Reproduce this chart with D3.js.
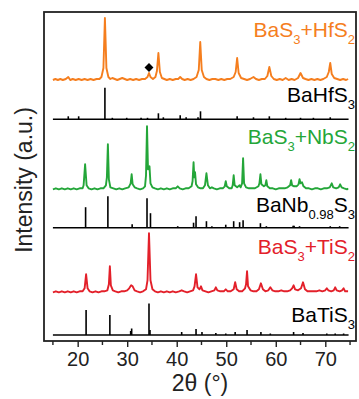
<!DOCTYPE html>
<html lang="en">
<head>
<meta charset="UTF-8"/>
<title>XRD patterns</title>
<script src="https://d3js.org/d3.v7.min.js"></script>
<style>
  body { margin: 0; background: #fff; }
  svg text { font-family: "Liberation Sans", Arial, sans-serif; }
</style>
</head>
<body>
<div id="chart"></div>
<script>
// measured pattern BaS3 + HfS2, [2theta, intensity above its own baseline]
var hfExp = [[15,0],[15.5,1],[16,0],[16.5,1],[17,0],[17.6,1],[18.1,3],[18.5,0],[19,1],[19.6,0],[20.2,1],[20.8,0],[21.4,1],[22,0],[22.6,1],[23.2,0],[23.8,1],[24.4,1],[24.8,3],[25.2,12],[25.5,62],[25.8,12],[26.2,3],[26.6,1],[27,2],[27.5,1],[28,0],[28.5,1],[29,2],[29.5,1],[30,0],[30.6,1],[31.2,0],[31.8,1],[32.4,0],[33,1],[33.6,1],[34.1,3],[34.4,7],[34.7,3],[35.2,1],[35.7,3],[36,9],[36.3,27],[36.6,8],[37,2],[37.5,1],[38,0],[38.6,1],[39.2,0],[39.8,1],[40.3,1],[40.7,3],[41.1,1],[41.6,0],[42.2,1],[42.8,0],[43.4,1],[44,3],[44.45,10],[44.75,38],[45.05,10],[45.5,3],[46,1],[46.6,0],[47.2,1],[47.8,1],[48.4,0],[49,1],[49.6,0],[50.2,1],[50.8,1],[51.5,3],[51.9,8],[52.2,22],[52.5,7],[53,2],[53.6,1],[54.2,0],[54.8,1],[55.5,3],[56,1],[56.6,0],[57.2,1],[57.8,1],[58.3,4],[58.7,13],[59.1,4],[59.6,1],[60.2,0],[60.8,1],[61.4,0],[62,2],[62.6,0],[63.2,1],[63.8,0],[64.5,2],[65,7],[65.5,2],[66,1],[66.6,0],[67.2,1],[67.8,0],[68.4,1],[69,0],[69.6,1],[70.3,3],[70.7,8],[71,17],[71.3,6],[71.8,2],[72.4,1],[73,0],[73.6,1],[74.2,0],[74.6,1]];

// reference sticks BaHfS3, [2theta, intensity]
var hfRef = [[18.1,3],[20.2,3],[25.5,31.5],[27.0,1.5],[29.9,1.5],[32.8,1.5],[34.1,1.5],[36.3,6],[37.3,2],[40.7,4],[41.9,2],[44.3,2],[44.8,8],[52.2,3],[55.5,2],[58.7,3],[62,1.5],[65,1.5],[67.6,1.5],[71,2]];

// measured pattern BaS3 + NbS2
var nbExp = [[15,0],[15.6,1],[16.2,0],[16.8,1],[17.4,0],[18,1],[18.6,0],[19.2,1],[19.8,0],[20.4,1],[21,1],[21.2,4],[21.5,25],[21.8,4],[22.2,1],[22.8,0],[23.4,1],[24,0],[24.6,1],[25.2,1],[25.7,4],[25.9,12],[26.1,45],[26.3,10],[26.6,2],[27.2,1],[27.8,0],[28.4,1],[29,0],[29.6,1],[30.3,2],[30.7,6],[30.9,15],[31.1,5],[31.5,2],[32,1],[32.6,0],[33.2,1],[33.6,3],[33.8,14],[34.0,63],[34.2,20],[34.5,23],[34.7,6],[35.1,2],[35.6,1],[36.2,0],[36.8,1],[37.4,0],[38,1],[38.6,0],[39.2,1],[39.8,1],[40.2,3],[40.6,1],[41.2,0],[41.8,1],[42.4,1],[43,3],[43.2,8],[43.4,27],[43.55,12],[43.7,17],[43.9,5],[44.3,2],[44.8,1],[45.3,1],[45.7,4],[46.0,16],[46.3,4],[46.7,1],[47.1,2],[47.5,1],[48.1,0],[48.7,1],[49.3,1],[49.7,3],[49.9,8],[50.1,3],[50.6,1],[51.1,1],[51.3,4],[51.5,14],[51.7,4],[52.2,2],[52.7,4],[52.9,2],[53.2,6],[53.4,31],[53.6,6],[54,2],[54.6,1],[55.2,1],[55.8,1],[56.5,3],[56.7,6],[56.9,15],[57.1,5],[57.6,3],[57.9,4],[58.1,9],[58.3,3],[58.8,1],[59.4,1],[60,0],[60.6,1],[61.2,1],[61.8,1],[62.4,2],[62.9,4],[63.1,9],[63.3,4],[63.7,3],[64.2,3],[64.6,5],[64.8,10],[65.0,6],[65.3,7],[65.6,3],[66.1,1],[66.7,1],[67.3,0],[67.9,1],[68.5,1],[69.1,0],[69.7,1],[70.3,1],[70.9,2],[71.3,6],[71.6,2],[72.2,1],[72.7,2],[73.0,5],[73.3,2],[73.8,1],[74.4,0],[74.6,1]];

// reference sticks BaNb0.98S3
var nbRef = [[21.6,20.5],[26.1,31.5],[31.0,3.5],[34.0,29.5],[34.7,14.5],[40.2,1.5],[43.4,5],[43.9,11.5],[46.0,6.5],[47.1,1.5],[49.9,3],[51.5,6.5],[52.7,5.5],[53.4,7.5],[56.9,4.5],[58.1,1.5],[63.5,2],[63.7,2],[64.8,1.5],[71,1.5],[72.9,1.5]];

// measured pattern BaS3 + TiS2
var tiExp = [[15,0],[15.6,1],[16.2,0],[16.8,1],[17.4,0],[18,1],[18.6,0],[19.2,1],[19.8,0],[20.4,1],[21,1],[21.4,4],[21.7,18],[22,4],[22.4,1],[23,0],[23.6,1],[24.2,0],[24.8,1],[25.4,1],[26,2],[26.3,8],[26.5,26],[26.7,7],[27.1,2],[27.6,1],[28.2,0],[28.8,1],[29.4,1],[30,2],[30.4,4],[30.8,7],[31.1,6],[31.5,2],[32,1],[32.6,0],[33.2,1],[33.8,3],[34.1,12],[34.4,59],[34.7,12],[35.1,3],[35.6,1],[36.2,0],[36.8,1],[37.4,0],[38,1],[38.6,0],[39.2,1],[39.8,0],[40.5,1],[41,2],[41.5,1],[42.1,0],[42.7,1],[43.3,2],[43.6,6],[43.9,18],[44.2,5],[44.6,3],[44.9,6],[45.2,2],[45.8,1],[46.4,0],[47,1],[47.6,2],[47.9,5],[48.2,2],[48.8,1],[49.5,1],[49.9,3],[50.3,1],[50.9,1],[51.5,3],[51.8,10],[52.1,3],[52.6,1],[53.2,1],[53.8,4],[54.0,8],[54.2,21],[54.4,6],[54.9,2],[55.5,1],[56.1,1],[56.6,3],[57.0,9],[57.4,3],[57.9,1],[58.5,2],[58.9,5],[59.3,2],[59.9,1],[60.5,1],[61.1,2],[61.7,1],[62.3,1],[62.9,2],[63.3,4],[63.6,7],[63.9,3],[64.5,2],[65.1,4],[65.5,10],[65.9,3],[66.4,1],[67,1],[67.6,1],[68.2,1],[68.8,2],[69.4,1],[70,2],[70.3,4],[70.6,2],[71.2,1],[71.7,2],[72.0,5],[72.3,2],[72.9,1],[73.4,2],[73.7,4],[74,1],[74.6,1]];

// reference sticks BaTiS3
var tiRef = [[21.7,25],[26.5,20],[30.7,4],[30.9,6.5],[34.4,31.5],[34.6,5],[41.0,3],[43.9,6],[45.1,3],[47.9,2],[49.9,1.5],[51.8,3],[54.2,5],[57.0,3],[58.9,1.5],[63.6,3],[65.5,2],[70.3,1.5],[72.0,1.5],[73.7,1.5]];

// vertical offsets of each pattern (a.u.)
var offsets = { hfExp: 261, hfRef: 221.7, nbExp: 151.7, nbRef: 113.3, tiExp: 48.7, tiRef: 6 };

// impurity marker (diamond) above HfS2 pattern
var marker = [34.4, 12.5];

var refRange = [15, 74.7];
var majorTicks = [20, 30, 40, 50, 60, 70];
var minorTicks = [15, 25, 35, 45, 55, 65, 75];

// labels, each part is [text, subscript?]
var hfExpLabel = [["BaS", 0], ["3", 1], ["+HfS", 0], ["2", 1]];
var hfRefLabel = [["BaHfS", 0], ["3", 1]];
var nbExpLabel = [["BaS", 0], ["3", 1], ["+NbS", 0], ["2", 1]];
var nbRefLabel = [["BaNb", 0], ["0.98", 1], ["S", 0], ["3", 1]];
var tiExpLabel = [["BaS", 0], ["3", 1], ["+TiS", 0], ["2", 1]];
var tiRefLabel = [["BaTiS", 0], ["3", 1]];

var width = 359;
var height = 399;
var margin = { top: 12, right: 3, bottom: 58, left: 44 };

var svg = d3.select("#chart")
  .append("svg")
  .attr("width", width)
  .attr("height", height);

var x = d3.scaleLinear()
  .domain([13.2, 76.2])
  .range([margin.left, width - margin.right]);

var y = d3.scaleLinear()
  .domain([0, 329])
  .range([height - margin.bottom, margin.top]);

var orange = "#f57e1e";
var green = "#24a639";
var red = "#e3202a";

// experimental patterns as noisy lines
function drawExp(data, off, colour) {
  var line = d3.line()
    .x(function(d) { return x(d[0]); })
    .y(function(d) { return y(off + d[1]); });
  svg.append("path")
    .datum(data)
    .attr("d", line)
    .attr("fill", "none")
    .attr("stroke", colour)
    .attr("stroke-width", 1.9)
    .attr("stroke-linejoin", "round");
}

// reference patterns as sticks on a baseline
function drawRef(data, off) {
  svg.append("line")
    .attr("x1", x(refRange[0]))
    .attr("x2", x(refRange[1]))
    .attr("y1", y(off))
    .attr("y2", y(off))
    .attr("stroke", "#000")
    .attr("stroke-width", 1.5);
  svg.append("g")
    .selectAll("line")
    .data(data)
    .enter()
    .append("line")
    .attr("x1", function(d) { return x(d[0]); })
    .attr("x2", function(d) { return x(d[0]); })
    .attr("y1", y(off))
    .attr("y2", function(d) { return y(off + d[1]); })
    .attr("stroke", "#000")
    .attr("stroke-width", 1.6);
}

drawExp(hfExp, offsets.hfExp, orange);
drawRef(hfRef, offsets.hfRef);
drawExp(nbExp, offsets.nbExp, green);
drawRef(nbRef, offsets.nbRef);
drawExp(tiExp, offsets.tiExp, red);
drawRef(tiRef, offsets.tiRef);

svg.append("path")
  .attr("d", d3.symbol().type(d3.symbolSquare).size(40)())
  .attr("transform", "translate(" + x(marker[0]) + "," + y(offsets.hfExp + marker[1]) + ") rotate(45)")
  .attr("fill", "#000");

// pattern labels, right aligned inside the frame
function drawLabel(parts, ypos, colour) {
  var t = svg.append("text")
    .attr("x", width - 4)
    .attr("y", ypos)
    .attr("text-anchor", "end")
    .attr("fill", colour)
    .style("font-size", "21px");
  var sub = false;
  parts.forEach(function(p) {
    var dy = 0;
    if (p[1] && !sub) dy = 7;
    if (!p[1] && sub) dy = -7;
    sub = !!p[1];
    t.append("tspan")
      .attr("dy", dy)
      .style("font-size", p[1] ? "13px" : "21px")
      .text(p[0]);
  });
}

drawLabel(hfExpLabel, 37, orange);
drawLabel(hfRefLabel, 101.5, "#000");
drawLabel(nbExpLabel, 144, green);
drawLabel(nbRefLabel, 211.5, "#000");
drawLabel(tiExpLabel, 254, red);
drawLabel(tiRefLabel, 321.5, "#000");

// bottom axis with major and minor ticks
var xAxis = svg.append("g")
  .attr("transform", "translate(0," + (height - margin.bottom) + ")")
  .call(d3.axisBottom(x).tickValues(majorTicks).tickSize(6).tickSizeOuter(0).tickPadding(5));

xAxis.select(".domain").remove();
xAxis.selectAll(".tick line").attr("stroke", "#222").attr("stroke-width", 1.4);
xAxis.selectAll(".tick text")
  .style("font-size", "20px")
  .attr("fill", "#222");

svg.append("g")
  .selectAll("line")
  .data(minorTicks)
  .enter()
  .append("line")
  .attr("x1", function(d) { return x(d); })
  .attr("x2", function(d) { return x(d); })
  .attr("y1", height - margin.bottom)
  .attr("y2", height - margin.bottom + 4)
  .attr("stroke", "#222")
  .attr("stroke-width", 1.4);

// frame
svg.append("rect")
  .attr("x", margin.left)
  .attr("y", margin.top)
  .attr("width", width - margin.left - margin.right)
  .attr("height", height - margin.top - margin.bottom)
  .attr("fill", "none")
  .attr("stroke", "#222")
  .attr("stroke-width", 1.8);

// axis titles
svg.append("text")
  .attr("x", (margin.left + width - margin.right) / 2)
  .attr("y", 391)
  .attr("text-anchor", "middle")
  .attr("fill", "#222")
  .style("font-size", "23px")
  .text("2θ (°)");

svg.append("text")
  .attr("transform", "translate(32,180) rotate(-90)")
  .attr("text-anchor", "middle")
  .attr("fill", "#222")
  .style("font-size", "23px")
  .text("Intensity (a.u.)");
</script>
</body>
</html>
